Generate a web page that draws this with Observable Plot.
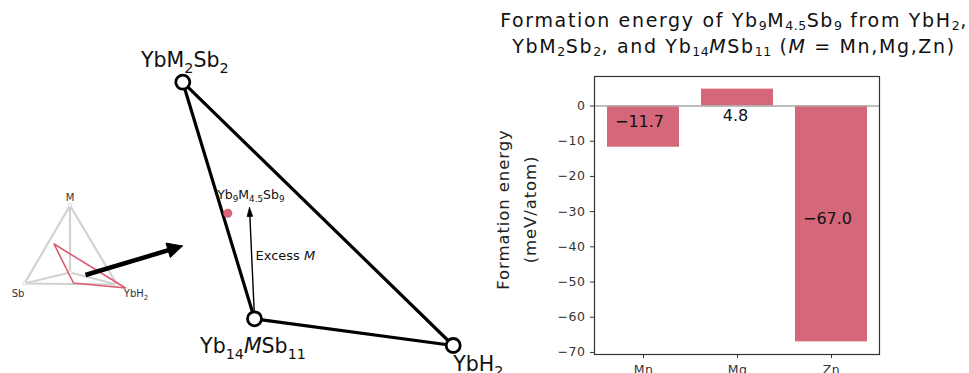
<!DOCTYPE html>
<html>
<head>
<meta charset="utf-8">
<script src="https://cdn.jsdelivr.net/npm/d3@7"></script>
<script src="https://cdn.jsdelivr.net/npm/@observablehq/plot@0.6"></script>
<style>
  html, body { margin: 0; padding: 0; background: white; }
  #wrap { position: relative; width: 969px; height: 373px; overflow: hidden; font-family: "DejaVu Sans", sans-serif; }
  #left, #right, #title { position: absolute; top: 0; }
  #left { left: 0; }
  #right { left: 490px; }
  #title { left: 494px; width: 480px; top: 7px; text-align: center; font-size: 19px; letter-spacing: 1.65px; line-height: 26px; color: #111; white-space: nowrap; }
  #title sub { font-size: 66%; vertical-align: -0.25em; line-height: 0; letter-spacing: 0.5px; }
  #right g[aria-label="y-axis tick label"] text { letter-spacing: 0.5px; }
  #right g[aria-label="x-axis tick label"] text { letter-spacing: 0.4px; }
</style>
</head>
<body>
<div id="wrap">
  <div id="left"></div>
  <div id="right"></div>
  <div id="title"></div>
</div>
<script>
// ---------- data ----------
// bar chart
const metals = ["Mn", "Mg", "Zn"];
const energies = [-11.7, 4.8, -67.0];
const yLabel = "Formation energy\n(meV/atom)";
const titleLines = [
  "Formation energy of Yb<sub>9</sub>M<sub>4.5</sub>Sb<sub>9</sub> from YbH<sub>2</sub>,",
  "YbM<sub>2</sub>Sb<sub>2</sub>, and Yb<sub>14</sub><i>M</i>Sb<sub>11</sub> (<i>M</i> = Mn,Mg,Zn)"
];

// schematic: big phase triangle (schematic drawing units)
const phaseNames = ["YbM_{2}Sb_{2}", "Yb_{14}*M*Sb_{11}", "YbH_{2}"];
const phaseX = [182.3, 254, 452.7];
const phaseY = [81.7, 318.3, 345];
const targetName = "Yb_{9}M_{4.5}Sb_{9}";
const targetX = [227.3];
const targetY = [212.7];
const excessLabel = "Excess *M*";
const excessFrom = [254, 318];
const excessTo = [249, 207];

// schematic: inset tetrahedron
const insetNames = ["M", "Sb", "YbH_{2}", ""];
const insetX = [69.5, 24, 116.5, 69.5];
const insetY = [205, 283, 284, 272];
const insetEdges = [[0, 1], [0, 2], [1, 2], [0, 3], [1, 3], [2, 3]];
const cutX = [53.5, 73, 125];
const cutY = [243.5, 282.5, 287.5];
const bigArrowFrom = [85, 274.5];
const bigArrowTo = [182, 245.5];

// ---------- helpers ----------
function richify(root) {
  root.querySelectorAll("text").forEach(t => {
    const targets = t.querySelector("tspan") ? [...t.querySelectorAll("tspan")] : [t];
    targets.forEach(el => {
      const s = el.textContent;
      if (!/[_*]/.test(s)) return;
      const fs = parseFloat(getComputedStyle(el).fontSize) || 12;
      el.textContent = "";
      const re = /_\{([^}]*)\}|\*([^*]*)\*|([^_*]+)/g;
      let m, shift = 0;
      while ((m = re.exec(s))) {
        const ts = document.createElementNS("http://www.w3.org/2000/svg", "tspan");
        let d = 0;
        if (m[1] != null) {
          ts.textContent = m[1];
          ts.setAttribute("font-size", (fs * 0.7).toFixed(2));
          d = fs * 0.28;
        } else if (m[2] != null) {
          ts.textContent = m[2];
          ts.setAttribute("font-style", "italic");
        } else {
          ts.textContent = m[3];
        }
        if (d - shift !== 0) ts.setAttribute("dy", (d - shift).toFixed(2));
        shift = d;
        el.appendChild(ts);
      }
    });
  });
}

// filled arrow head polygon derived from an arrow's endpoints
function headOf(a, len, half) {
  const dx = a.x2 - a.x1, dy = a.y2 - a.y1, L = Math.hypot(dx, dy);
  const ux = dx / L, uy = dy / L, nx = -uy, ny = ux;
  const bx = a.x2 - ux * len, by = a.y2 - uy * len;
  return [
    {x: a.x2, y: a.y2},
    {x: bx + nx * half, y: by + ny * half},
    {x: bx - nx * half, y: by - ny * half},
    {x: a.x2, y: a.y2}
  ];
}
function shaftOf(a, len) {
  const dx = a.x2 - a.x1, dy = a.y2 - a.y1, L = Math.hypot(dx, dy);
  return {x1: a.x1, y1: a.y1, x2: a.x2 - dx / L * len * 0.8, y2: a.y2 - dy / L * len * 0.8};
}

document.getElementById("title").innerHTML = titleLines.join("<br>");

// ---------- left schematic ----------
const phases = phaseNames.map((n, i) => ({name: n, x: phaseX[i], y: phaseY[i]}));
const inset = insetNames.map((n, i) => ({name: n, x: insetX[i], y: insetY[i]}));
const cut = cutX.map((x, i) => ({x, y: cutY[i]}));
const target = targetX.map((x, i) => ({name: targetName, x, y: targetY[i]}));
const excess = {x1: excessFrom[0], y1: excessFrom[1], x2: excessTo[0], y2: excessTo[1], name: excessLabel};
const bigArrow = {x1: bigArrowFrom[0], y1: bigArrowFrom[1], x2: bigArrowTo[0], y2: bigArrowTo[1]};

const left = Plot.plot({
  width: 490, height: 373, margin: 0,
  x: {domain: [0, 490], range: [0, 490], axis: null},
  y: {domain: [0, 373], range: [0, 373], axis: null},
  style: {fontFamily: "DejaVu Sans", background: "transparent", overflow: "visible", color: "#111"},
  marks: [
    // inset
    Plot.link(insetEdges, {x1: e => insetX[e[0]], y1: e => insetY[e[0]], x2: e => insetX[e[1]], y2: e => insetY[e[1]], stroke: "#d2d2d2", strokeWidth: 2.2}),
    Plot.dot(inset, {x: "x", y: "y", r: 1.8, fill: "white", stroke: "#d8d8d8", strokeWidth: 1}),
    Plot.line([...cut, cut[0]], {x: "x", y: "y", stroke: "#dd5a70", strokeWidth: 1.6}),
    Plot.text([inset[0]], {x: "x", y: "y", text: "name", dy: -8, fontSize: 10, fill: "#333"}),
    Plot.text([inset[1]], {x: "x", y: "y", text: "name", dx: -6.5, dy: 10, fontSize: 10, fill: "#333"}),
    Plot.text([inset[2]], {x: "x", y: "y", text: "name", dx: 19, dy: 9, fontSize: 10, fill: "#333"}),
    Plot.link([shaftOf(bigArrow, 15)], {x1: "x1", y1: "y1", x2: "x2", y2: "y2", stroke: "black", strokeWidth: 4.5}),
    Plot.line(headOf(bigArrow, 15, 7.5), {x: "x", y: "y", fill: "black", stroke: "black", strokeWidth: 1}),
    // big triangle
    Plot.line([0, 1, 2, 0], {x: i => phaseX[i], y: i => phaseY[i], stroke: "black", strokeWidth: 3.2, strokeLinejoin: "round"}),
    Plot.link([shaftOf(excess, 8)], {x1: "x1", y1: "y1", x2: "x2", y2: "y2", stroke: "black", strokeWidth: 1.4}),
    Plot.line(headOf(excess, 9, 2.8), {x: "x", y: "y", fill: "black", stroke: "black", strokeWidth: 0.8}),
    Plot.text([excess], {x: d => (d.x1 + d.x2) / 2, y: d => (d.y1 + d.y2) / 2, text: "name", textAnchor: "start", dx: 3.5, dy: -7, fontSize: 13, fill: "#111"}),
    Plot.dot(target, {x: "x", y: "y", r: 4.5, fill: "#dc6679"}),
    Plot.text(target, {x: "x", y: "y", text: "name", dx: 23, dy: -18.5, fontSize: 12.5, fill: "#111"}),
    Plot.dot(phases, {x: "x", y: "y", r: 7, fill: "white", stroke: "black", strokeWidth: 2.8}),
    Plot.text([phases[0]], {x: "x", y: "y", text: "name", dx: 2, dy: -21.7, fontSize: 20.5, fill: "#111"}),
    Plot.text([phases[1]], {x: "x", y: "y", text: "name", dx: -1.5, dy: 28, fontSize: 20.5, fill: "#111"}),
    Plot.text([phases[2]], {x: "x", y: "y", text: "name", textAnchor: "start", dx: 0, dy: 18.6, fontSize: 20.5, fill: "#111"})
  ]
});
document.getElementById("left").appendChild(left);
richify(left);

// ---------- right bar chart ----------
const bars = metals.map((m, i) => ({metal: m, value: energies[i]}));
const fmt = d3.format(".1f");
const yMin = d3.min(energies), yMax = d3.max(energies);
const pad = (yMax - yMin) * 0.05;

const right = Plot.plot({
  width: 479, height: 373,
  marginLeft: 104, marginRight: 90, marginTop: 76, marginBottom: 19,
  style: {fontFamily: "DejaVu Sans", fontSize: "12px", color: "#333", background: "transparent", overflow: "visible"},
  x: {domain: metals, paddingInner: 0.237, paddingOuter: 0.134, label: null},
  y: {domain: [yMin - pad, yMax + pad], label: null},
  marks: [
    Plot.barY(bars, {x: "metal", y: "value", fill: "#d5677a"}),
    Plot.ruleY([0], {stroke: "#a8a8a8", strokeWidth: 1.5}),
    Plot.text(bars.filter(d => d.value < 0), {x: "metal", y: d => d.value / 2, text: d => fmt(d.value), dx: -4, dy: -5, fontSize: 16, fill: "#111"}),
    Plot.text(bars.filter(d => d.value >= 0), {x: "metal", y: 0, text: d => fmt(d.value), dx: -2, dy: 10, fontSize: 16, fill: "#111"}),
    Plot.axisY({ticks: 8, tickFormat: d3.format("d"), tickSize: 4, tickPadding: 5, fontSize: 12.5, label: null, stroke: "#333", fill: "#333"}),
    Plot.axisX({tickSize: 4, tickPadding: 7, fontSize: 12.5, label: null, stroke: "#333", fill: "#333"}),
    Plot.frame({stroke: "#333", strokeWidth: 1.2}),
    Plot.text([yLabel], {frameAnchor: "left", text: d => d, textAnchor: "middle", lineAnchor: "middle", rotate: -90, dx: -80.5, dy: -6, fontSize: 16.5, lineHeight: 1.65, fill: "#222"})
  ]
});
document.getElementById("right").appendChild(right);
richify(right);
right.querySelectorAll("text").forEach(t => {
  if (t.textContent.startsWith("Formation")) t.style.letterSpacing = "0.9px";
});
</script>
</body>
</html>
